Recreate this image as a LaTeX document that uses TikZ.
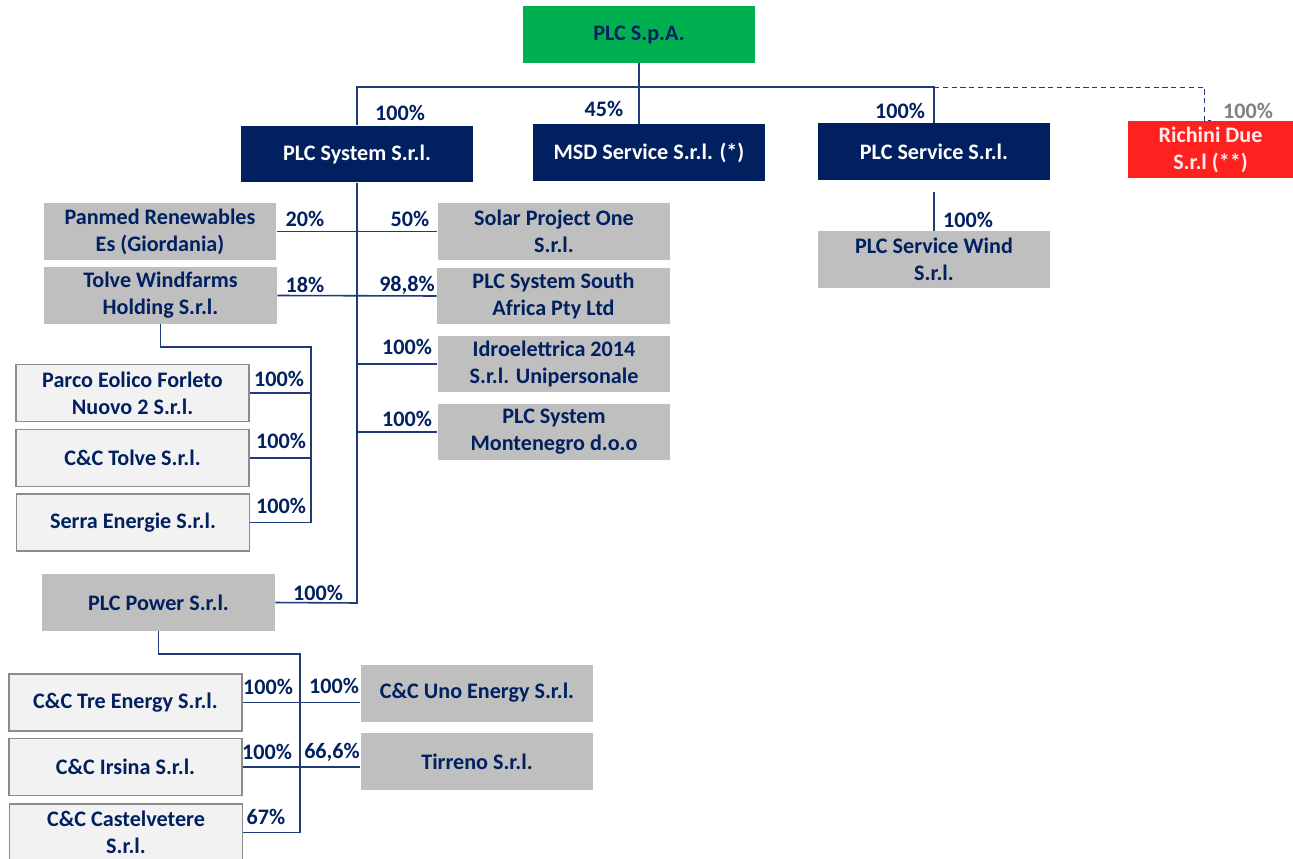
\documentclass[tikz,border=0pt]{standalone}
\usepackage{fontspec}
\setmainfont{Carlito}
\usetikzlibrary{positioning}
\definecolor{navy}{HTML}{002060}
\definecolor{linecol}{HTML}{1F3A78}
\definecolor{plcgreen}{HTML}{00B050}
\definecolor{plcred}{HTML}{FF2020}
\definecolor{boxgrey}{HTML}{BFBFBF}
\definecolor{boxlite}{HTML}{F2F2F2}
\definecolor{rimgrey}{HTML}{8C8C8C}

\begin{document}
\begin{tikzpicture}[
  x=0.02cm, y=-0.02cm,
  every node/.style={font=\fontsize{12.6}{15.3}\selectfont\bfseries, align=center},
  box/.style = {minimum width=4.66cm, minimum height=1.14cm, inner sep=0pt},
  greenbox/.style = {box, fill=plcgreen, text=navy},
  navybox/.style = {box, fill=navy, text=white},
  redbox/.style = {box, fill=plcred, text=red!8, minimum width=3.3cm},
  greybox/.style = {box, fill=boxgrey, text=navy},
  litebox/.style = {box, fill=boxlite, draw=rimgrey, line width=1pt, text=navy},
  pct/.style = {text=navy, inner sep=0pt},
  link/.style = {draw=linecol, line width=0.9pt}
  ]
  \useasboundingbox (0,0) rectangle (1293,858);

	% top level
	\node[greenbox] (spa) at (639,34.5) {PLC S.p.A.};
	\node[navybox] (sys) at (357,154) {PLC System S.r.l.};
	\node[navybox] (msd) at (649,152.5) {MSD Service S.r.l. (*)};
	\node[navybox] (svc) at (934,151.5) {PLC Service S.r.l.};
	\node[redbox] (richini) at (1210.5,149.5) {Richini Due\\S.r.l (**)};
	\node[greybox] (wind) at (934,259.5) {PLC Service Wind\\S.r.l.};

	% PLC System branches
	\node[greybox] (panmed) at (160,231.5) {Panmed Renewables\\Es (Giordania)};
	\node[greybox] (solar) at (554,231.5) {Solar Project One\\S.r.l.};
	\node[greybox] (tolve) at (160.5,295.5) {Tolve Windfarms\\Holding S.r.l.};
	\node[greybox] (safrica) at (553.5,296) {PLC System South\\Africa Pty Ltd};
	\node[greybox] (idro) at (554,364) {Idroelettrica 2014\\S.r.l. Unipersonale};
	\node[greybox] (monte) at (554,432) {PLC System\\Montenegro d.o.o};
	\node[greybox] (power) at (158.5,602.5) {PLC Power S.r.l.};

	% Tolve branches
	\node[litebox] (parco) at (132.5,393) {Parco Eolico Forleto\\Nuovo 2 S.r.l.};
	\node[litebox] (ctolve) at (132.5,458) {C\&C Tolve S.r.l.};
	\node[litebox] (serra) at (133,522.5) {Serra Energie S.r.l.};

	% PLC Power branches
	\node[litebox] (tre) at (125.5,702.5) {C\&C Tre Energy S.r.l.};
	\node[litebox] (irsina) at (125.5,767) {C\&C Irsina S.r.l.};
	\node[litebox] (castel) at (126,832.5) {C\&C Castelvetere\\S.r.l.};
	\node[greybox] (uno) at (477,693) {C\&C Uno Energy S.r.l.};
	\node[greybox] (tirreno) at (477,761.5) {Tirreno S.r.l.};

	% connectors
	\coordinate (bar) at (639,87);
	\draw[link] (spa.south) -- (msd.north -| spa.south);
	\draw[link] (sys.north) |- (bar) -| (svc.north);
	\draw[link, densely dashed, line width=0.5pt] (svc.north |- bar) -- ++(270,0) |- (richini.north);
	\draw[link] (svc.south) ++(0,12) -- (wind.north);

	\coordinate (spine) at (357,603);
	\draw[link] (sys.south) -- (spine) -- (power.east);
	\draw[link] (panmed.east) -- (solar.west);
	\draw[link] (tolve.east) -- (safrica.west);
	\draw[link] (sys.south |- idro.west) -- (idro.west);
	\draw[link] (sys.south |- monte.west) -- (monte.west);

	\coordinate (tb) at (311,347);
	\draw[link] (tolve.south) |- (tb) -- (tb |- serra.east) -- (serra.east);
	\draw[link] (parco.east) -- (tb |- parco.east);
	\draw[link] (ctolve.east) -- (tb |- ctolve.east);

	\coordinate (pb) at (300,654);
	\draw[link] (power.south) |- (pb) -- (pb |- castel.east) -- (castel.east);
	\draw[link] (tre.east) -- (tre.east -| uno.west);
	\draw[link] (irsina.east) -- (irsina.east -| tirreno.west);

	% percentages
	\node[pct] (p1) at (400,113) {100\%};
	\node[pct] (p2) at (604,109) {45\%};
	\node[pct] (p3) at (900,111) {100\%};
	\node[pct, text=gray] (p4) at (1248,111) {100\%};
	\node[pct] (p5) at (968,220) {100\%};
	\node[pct] (p6) at (305,219) {20\%};
	\node[pct] (p7) at (410,219) {50\%};
	\node[pct] (p8) at (305,285) {18\%};
	\node[pct] (p9) at (407,285) {98,8\%};
	\node[pct] (p10) at (407,347) {100\%};
	\node[pct] (p11) at (407,419) {100\%};
	\node[pct] (p12) at (279,379) {100\%};
	\node[pct] (p13) at (281,441) {100\%};
	\node[pct] (p14) at (281,506) {100\%};
	\node[pct] (p15) at (318,593) {100\%};
	\node[pct] (p16) at (268,687) {100\%};
	\node[pct] (p17) at (334,686) {100\%};
	\node[pct] (p18) at (267,752) {100\%};
	\node[pct] (p19) at (332,752) {66,6\%};
	\node[pct] (p20) at (266,817) {67\%};

\end{tikzpicture}
\end{document}
